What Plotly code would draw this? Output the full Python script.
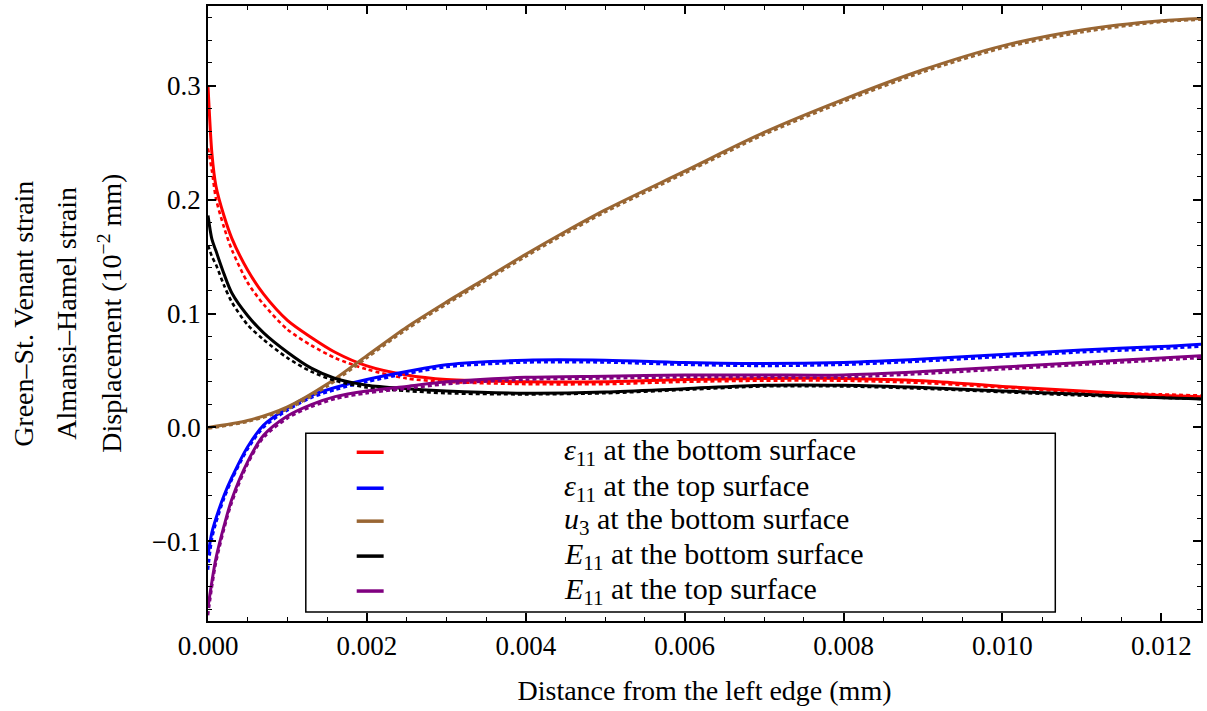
import plotly.graph_objects as go

# Distance from the left edge (mm)
x = [0.0, 0.00005, 0.0001, 0.0002, 0.0003, 0.0005, 0.0007, 0.001, 0.0013, 0.0016,
     0.002, 0.0025, 0.003, 0.004, 0.005, 0.006, 0.007, 0.008, 0.009, 0.010,
     0.011, 0.012, 0.0125]

# e11 at the bottom surface
e11_bottom = [0.300, 0.240, 0.212, 0.186, 0.166, 0.138, 0.117, 0.094, 0.079, 0.066,
              0.054, 0.046, 0.042, 0.040, 0.040, 0.042, 0.043, 0.043, 0.041, 0.036,
              0.032, 0.028, 0.027]
e11_bottom_dash = [0.245, 0.225, 0.201, 0.176, 0.156, 0.127, 0.108, 0.086, 0.072, 0.061,
                   0.051, 0.043, 0.040, 0.038, 0.038, 0.040, 0.041, 0.041, 0.039, 0.035,
                   0.031, 0.029, 0.028]

# e11 at the top surface
e11_top = [-0.112, -0.092, -0.080, -0.060, -0.044, -0.017, 0.002, 0.017, 0.028, 0.035,
           0.042, 0.049, 0.055, 0.059, 0.059, 0.057, 0.056, 0.057, 0.060, 0.064,
           0.068, 0.071, 0.073]
e11_top_dash = [-0.125, -0.098, -0.084, -0.063, -0.046, -0.019, 0.000, 0.015, 0.026, 0.033,
                0.040, 0.047, 0.053, 0.057, 0.057, 0.055, 0.054, 0.055, 0.058, 0.062,
                0.066, 0.069, 0.071]

# u3 at the bottom surface (10^-2 mm)
x_u3 = [0.0, 0.0005, 0.001, 0.0015, 0.002, 0.0025, 0.003, 0.0035, 0.004, 0.0045,
        0.005, 0.006, 0.007, 0.008, 0.009, 0.010, 0.011, 0.012, 0.0125]
u3_bottom = [0.000, 0.006, 0.018, 0.038, 0.063, 0.088, 0.110, 0.131, 0.152, 0.172,
             0.191, 0.225, 0.259, 0.288, 0.314, 0.335, 0.349, 0.357, 0.359]
u3_bottom_dash = [-0.001, 0.005, 0.016, 0.036, 0.061, 0.086, 0.108, 0.129, 0.150, 0.170,
                  0.189, 0.223, 0.257, 0.286, 0.312, 0.333, 0.347, 0.356, 0.358]

# E11 at the bottom surface
E11_bottom = [0.186, 0.165, 0.155, 0.135, 0.118, 0.098, 0.083, 0.066, 0.052, 0.043,
              0.037, 0.034, 0.032, 0.030, 0.031, 0.034, 0.037, 0.037, 0.035, 0.032,
              0.029, 0.026, 0.025]
E11_bottom_dash = [0.160, 0.150, 0.143, 0.125, 0.110, 0.090, 0.077, 0.061, 0.049, 0.041,
                   0.035, 0.032, 0.030, 0.029, 0.030, 0.033, 0.036, 0.036, 0.034, 0.031,
                   0.028, 0.026, 0.025]

# E11 at the top surface
E11_top = [-0.158, -0.135, -0.115, -0.087, -0.063, -0.030, -0.007, 0.010, 0.020, 0.027,
           0.032, 0.036, 0.040, 0.044, 0.045, 0.046, 0.046, 0.046, 0.049, 0.053,
           0.057, 0.061, 0.063]
E11_top_dash = [-0.165, -0.140, -0.119, -0.090, -0.066, -0.032, -0.009, 0.008, 0.018, 0.025,
                0.030, 0.034, 0.038, 0.042, 0.043, 0.044, 0.044, 0.044, 0.047, 0.051,
                0.055, 0.059, 0.061]

legend_labels = [
    "<i>ε</i><sub>11</sub> at the bottom surface",
    "<i>ε</i><sub>11</sub> at the top surface",
    "<i>u</i><sub>3</sub> at the bottom surface",
    "<i>E</i><sub>11</sub> at the bottom surface",
    "<i>E</i><sub>11</sub> at the top surface",
]

RED = "#FF0000"
BLUE = "#0000FF"
BROWN = "#996633"
BLACK = "#000000"
PURPLE = "#800080"
colors = [RED, BLUE, BROWN, BLACK, PURPLE]

series = [
    (x, e11_bottom, e11_bottom_dash),
    (x, e11_top, e11_top_dash),
    (x_u3, u3_bottom, u3_bottom_dash),
    (x, E11_bottom, E11_bottom_dash),
    (x, E11_top, E11_top_dash),
]

FONT = "Liberation Serif"

fig = go.Figure()
for (xs, solid, dashed), col in zip(series, colors):
    fig.add_trace(go.Scatter(x=xs, y=dashed, mode="lines", showlegend=False,
                             line=dict(color=col, width=2.6, dash="4px,3px",
                                       shape="spline", smoothing=0.8)))
    fig.add_trace(go.Scatter(x=xs, y=solid, mode="lines", showlegend=False,
                             line=dict(color=col, width=3, shape="spline",
                                       smoothing=0.8)))

# plot-area geometry in pixels (used to place the hand-drawn legend and labels)
W, H = 1207, 711
L, R, T, B = 208, 4, 5, 90
pw, ph = W - L - R, H - T - B


def px(xp):
    return (xp - L) / pw


def py(yp):
    return (H - B - yp) / ph


shapes = [dict(type="rect", xref="paper", yref="paper",
               x0=px(306), x1=px(1057), y0=py(612), y1=py(433),
               line=dict(color="black", width=1.5), fillcolor="white", layer="above")]
annotations = []
row_y = [452, 488, 521, 556, 591]
for lab, col, ry in zip(legend_labels, colors, row_y):
    shapes.append(dict(type="line", xref="paper", yref="paper",
                       x0=px(357), x1=px(384), y0=py(ry), y1=py(ry),
                       line=dict(color=col, width=3.5), layer="above"))
    annotations.append(dict(xref="paper", yref="paper", x=px(563), y=py(ry),
                            xanchor="left", yanchor="middle", text=lab,
                            showarrow=False, font=dict(family=FONT, size=30, color="black")))

for txt, xc in [("Green–St. Venant strain", 23),
                ("Almansi–Hamel strain", 66),
                ("Displacement (10<sup>−2</sup> mm)", 110)]:
    annotations.append(dict(xref="paper", yref="paper", x=px(xc), y=py(313),
                            xanchor="center", yanchor="middle", textangle=-90,
                            text=txt, showarrow=False,
                            font=dict(family=FONT, size=28, color="black")))

axis_common = dict(showline=True, linecolor="black", linewidth=1.5, mirror="allticks",
                   ticks="inside", ticklen=8, tickwidth=1.5, tickcolor="black",
                   showgrid=False, zeroline=False,
                   tickfont=dict(family=FONT, size=27, color="black"))

fig.update_layout(
    width=W, height=H,
    margin=dict(l=L, r=R, t=T, b=B),
    paper_bgcolor="white", plot_bgcolor="white",
    showlegend=False,
    font=dict(family=FONT, size=27, color="black"),
    shapes=shapes, annotations=annotations,
    xaxis=dict(range=[0, 0.0125], dtick=0.002, tick0=0, tickformat=".3f",
               minor=dict(dtick=0.0005, ticks="inside", ticklen=4, tickwidth=1.2,
                          tickcolor="black", showgrid=False),
               title=dict(text="Distance from the left edge (mm)", standoff=20,
                          font=dict(family=FONT, size=28, color="black")),
               **axis_common),
    yaxis=dict(range=[-0.170, 0.370], dtick=0.1, tick0=0, tickformat=".1f",
               minor=dict(dtick=0.02, ticks="inside", ticklen=4, tickwidth=1.2,
                          tickcolor="black", showgrid=False),
               **axis_common),
)

fig.write_html("out.html")
